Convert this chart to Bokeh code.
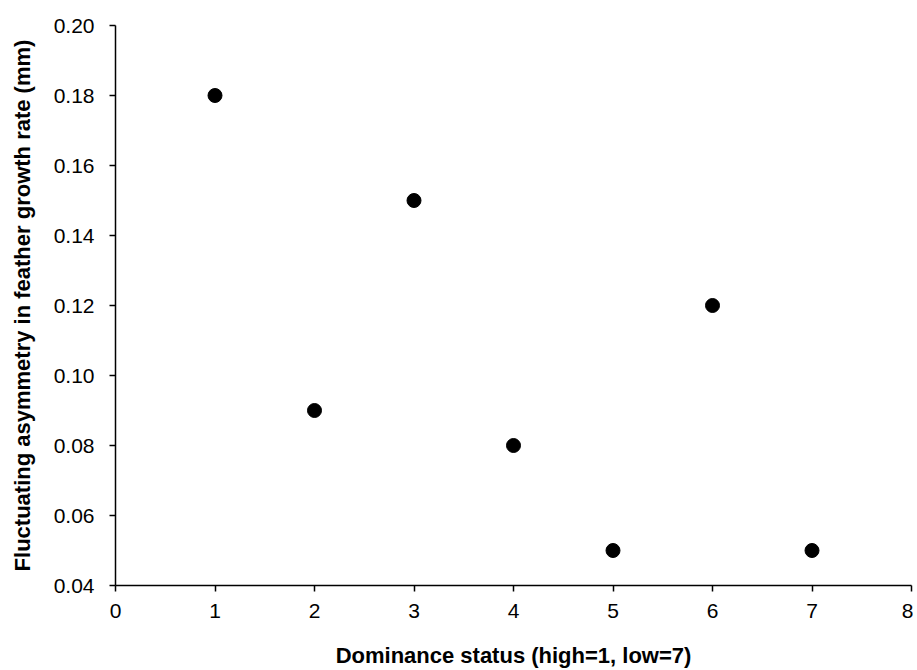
from bokeh.plotting import figure
from bokeh.models import Range1d, FixedTicker, ColumnDataSource
from bokeh.embed import file_html
from bokeh.resources import INLINE

dominance = [1, 2, 3, 4, 5, 6, 7]
asymmetry = [0.18, 0.09, 0.15, 0.08, 0.05, 0.12, 0.05]
x_ticks = [0, 1, 2, 3, 4, 5, 6, 7, 8]
y_ticks = [0.04, 0.06, 0.08, 0.10, 0.12, 0.14, 0.16, 0.18, 0.20]
y_labels = ["0.04", "0.06", "0.08", "0.10", "0.12", "0.14", "0.16", "0.18", "0.20"]

src = ColumnDataSource(dict(x=dominance, y=asymmetry))

p = figure(width=913, height=670, output_backend="svg", toolbar_location=None,
           x_range=Range1d(0, 8), y_range=Range1d(0.04, 0.20),
           min_border_left=115, min_border_right=2, min_border_top=25, min_border_bottom=85)
p.outline_line_color = None
p.xgrid.visible = False
p.ygrid.visible = False
p.background_fill_color = "white"
p.border_fill_color = "white"

p.scatter("x", "y", source=src, size=14, fill_color="black", line_color="black")

FONT = "Liberation Sans"
for ax in (p.xaxis[0], p.yaxis[0]):
    ax.axis_line_color = "black"
    ax.axis_line_width = 1.5
    ax.major_tick_line_color = "black"
    ax.major_tick_line_width = 1.5
    ax.major_tick_out = 6
    ax.major_tick_in = 0
    ax.minor_tick_line_color = None
    ax.major_label_text_font = FONT
    ax.major_label_text_font_size = "21px"
    ax.major_label_text_color = "black"
    ax.axis_label_text_font = FONT
    ax.axis_label_text_font_style = "bold"
    ax.axis_label_text_font_size = "22px"
    ax.axis_label_text_color = "black"

p.xaxis.ticker = FixedTicker(ticks=x_ticks)
p.yaxis.ticker = FixedTicker(ticks=y_ticks)
p.yaxis.major_label_overrides = dict(zip(y_ticks, y_labels))
p.xaxis.major_label_standoff = 12
p.yaxis.major_label_standoff = 15
p.xaxis.axis_label = "Dominance status (high=1, low=7)"
p.yaxis.axis_label = "Fluctuating asymmetry in feather growth rate (mm)"
p.xaxis.axis_label_standoff = 22
p.yaxis.axis_label_standoff = 16

open("out.html", "w").write(file_html(p, INLINE))
